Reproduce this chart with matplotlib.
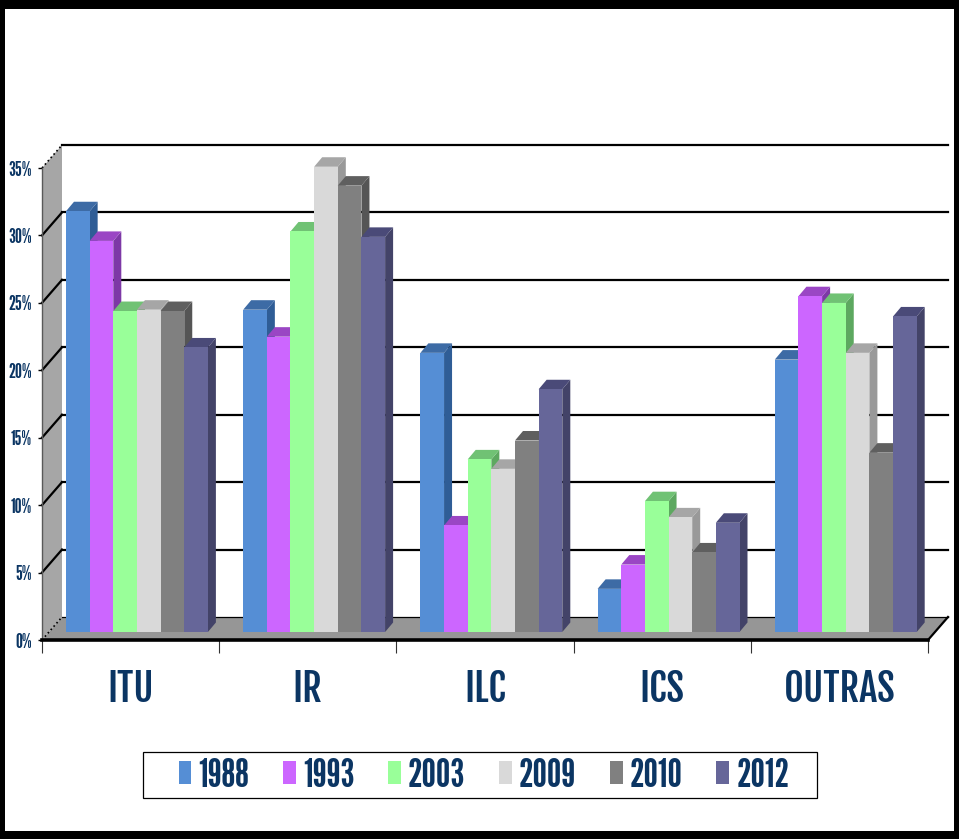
import matplotlib
matplotlib.use('Agg')
import matplotlib.pyplot as plt
from matplotlib.patches import Polygon, Rectangle

categories = ['ITU', 'IR', 'ILC', 'ICS', 'OUTRAS']
years = ['1988', '1993', '2003', '2009', '2010', '2012']
v1988 = [31.2, 23.9, 20.7, 3.2, 20.2]
v1993 = [29.0, 21.9, 7.9, 5.0, 24.9]
v2003 = [23.8, 29.7, 12.8, 9.7, 24.4]
v2009 = [23.9, 34.5, 12.1, 8.5, 20.7]
v2010 = [23.8, 33.1, 14.2, 5.9, 13.3]
v2012 = [21.1, 29.3, 18.0, 8.1, 23.4]
series = [v1988, v1993, v2003, v2009, v2010, v2012]
yticks = [0, 5, 10, 15, 20, 25, 30, 35]

front = ['#558ed5', '#cc66ff', '#99ff99', '#d9d9d9', '#808080', '#666699']
tops = ['#3d6ba5', '#9a46c4', '#70c274', '#a6a6a6', '#5f5f5f', '#4a4a78']
sides = ['#2f5d96', '#7d38a6', '#5da860', '#999999', '#555555', '#434368']
navy = '#0b3563'
narrow = ['League Gothic', 'Liberation Sans']
wider = ['Fjalla One', 'Liberation Sans']

W, H = 959, 839
fig = plt.figure(figsize=(W / 100, H / 100), dpi=100, facecolor='black')
fig.patches.append(Rectangle((5 / W, 1 - 831 / H), 949 / W, 822 / H, transform=fig.transFigure,
                             facecolor='white', edgecolor='none', zorder=-5))

# front plane of the fake 3d box, pixels from the picture
ax = fig.add_axes([42 / W, 1 - 640 / H, 886 / W, 472 / H])
ax.patch.set_visible(False)
ax.set_xlim(0, 5)
ax.set_ylim(0, 35)
px = 5 / 886
py = 35 / 472
wall_dx, wall_dy = 20 * px, 23 * py
bar_dx, bar_dy = 8 * px, 9.5 * py
base = 8 * py
bw = 23.65 * px
start = 24 * px

# walls and floor
ax.add_patch(Polygon([(0, 0), (wall_dx, wall_dy), (wall_dx, 35 + wall_dy), (0, 35)],
                     facecolor='#a6a6a6', edgecolor='none', clip_on=False, zorder=1))
ax.add_patch(Polygon([(0, 0), (5, 0), (5 + wall_dx, wall_dy), (wall_dx, wall_dy)],
                     facecolor='#969696', edgecolor='none', clip_on=False, zorder=1))
for t in yticks:
    ls = ':' if t in (0, 35) else '-'
    lw = 1.2 if t in (0, 35) else 1.6
    ax.plot([0, wall_dx], [t, t + wall_dy], color='black', lw=lw, ls=ls, clip_on=False, zorder=2)
    ax.plot([wall_dx, 5 + wall_dx], [t + wall_dy, t + wall_dy], color='black',
            lw=0.9 if t == 0 else 1.6, clip_on=False, zorder=2)
ax.plot([5, 5 + wall_dx], [0, wall_dy], color='black', lw=1.6, clip_on=False, zorder=2)

# bars
z = 3
for g in range(len(categories)):
    for i, vals in enumerate(series):
        x0 = g + start + i * bw
        v = vals[g]
        y1 = base + v
        ax.add_patch(Polygon([(x0 + bw, base), (x0 + bw + bar_dx, base + bar_dy),
                              (x0 + bw + bar_dx, y1 + bar_dy), (x0 + bw, y1)],
                             facecolor=sides[i], edgecolor='none', clip_on=False, zorder=z))
        ax.add_patch(Polygon([(x0, y1), (x0 + bar_dx, y1 + bar_dy),
                              (x0 + bw + bar_dx, y1 + bar_dy), (x0 + bw, y1)],
                             facecolor=tops[i], edgecolor='none', clip_on=False, zorder=z))
        ax.bar(x0, v, bw, bottom=base, align='edge', color=front[i], clip_on=False, zorder=z + 0.5)
        z += 1

# axes and labels
for s in ['top', 'right']:
    ax.spines[s].set_visible(False)
ax.spines['left'].set_color('#595959')
ax.spines['left'].set_linewidth(1)
ax.spines['left'].set_zorder(200)
ax.spines['bottom'].set_linewidth(2.6)
ax.spines['bottom'].set_zorder(200)

ax.set_yticks(yticks)
ax.set_yticklabels([str(t) + '%' for t in yticks], family=narrow, fontsize=14, color=navy)
ax.tick_params(axis='y', length=3, width=1, pad=4)

ax.set_xticks(range(6))
ax.set_xticklabels([])
ax.tick_params(axis='x', which='major', length=9, width=0.8, color='#333333')
ax.set_xticks([g + 0.5 for g in range(5)], minor=True)
ax.set_xticklabels(categories, minor=True, family=wider, fontsize=27.5, color=navy)
ax.tick_params(axis='x', which='minor', length=0, pad=20)

# legend, frame drawn apart because its size does not follow the entries
fig.patches.append(Rectangle((143 / W, 1 - 798 / H), 674 / W, 46 / H, transform=fig.transFigure,
                             facecolor='white', edgecolor='black', linewidth=0.9, zorder=-4))
handles = [Rectangle((0, 0), 1, 1, facecolor=c, edgecolor='none') for c in front]
leg = fig.legend(handles, years, ncol=6, loc='center',
                 bbox_to_anchor=(484 / W, 1 - 776 / H), frameon=False,
                 handlelength=0.31, handleheight=0.49, handletextpad=0.18, columnspacing=0.84,
                 prop={'family': narrow, 'size': 29})
for t in leg.get_texts():
    t.set_color(navy)

fig.savefig('out.png', dpi=100, facecolor='black')
